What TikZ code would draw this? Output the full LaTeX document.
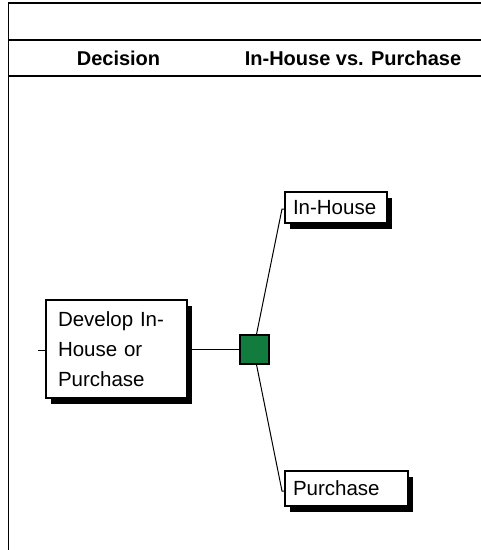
\documentclass[tikz,border=0pt]{standalone}
\usepackage{fontspec}
\setmainfont{Liberation Sans}
\usetikzlibrary{shadows}
\definecolor{chancegreen}{RGB}{18,123,62}
\begin{document}
\begin{tikzpicture}[x=1pt,y=-1pt,
  rule/.style={line width=1.4pt,black},
  link/.style={line width=1pt,black},
  header/.style={font=\fontsize{20}{24}\selectfont\bfseries,inner sep=0pt},
  card/.style={draw=black,line width=1.3pt,fill=white,
    font=\fontsize{20.5}{30}\selectfont,align=left,
    inner xsep=8pt,inner ysep=0pt,
    drop shadow={shadow xshift=5pt,shadow yshift=-6pt,fill=black,opacity=1}},
  chance/.style={draw=black,line width=1.2pt,fill=chancegreen,
    minimum width=29pt,minimum height=29pt,inner sep=0pt}
]
\useasboundingbox (0,0) rectangle (481,550);

% table frame and header rows
\draw[rule] (481,3) -- (8.5,3) -- (8.5,550);
\draw[rule] (8.5,40) -- (481,40);
\draw[rule] (8.5,76) -- (481,76);
\node[header] (hdec) at (118.5,58.5) {Decision};
\node[header] (hopt) at (353,58.5) {In-House vs. Purchase};

% decision node
\node[card,minimum width=141pt,minimum height=98pt,text width=117pt,inner xsep=12pt]
  (dec) at (116.5,349) {Develop In-\\House or\\Purchase};

% chance node
\node[chance] (sq) at (254.5,349.5) {};

% outcomes
\node[card,minimum width=102pt,minimum height=31pt,text width=86pt]
  (ih) at (336,207.5) {In-House};
\node[card,minimum width=123pt,minimum height=35pt,text width=107pt]
  (pu) at (346.5,488.5) {Purchase};

% connectors
\coordinate (stub) at (38,350);
\coordinate (ihb) at (282,209);
\coordinate (pub) at (282,491);
\draw[link] (stub) -- (stub -| dec.west);
\draw[link] (dec.east |- sq.west) -- (sq.west);
\draw[link] ([xshift=2pt]sq.north) -- (ihb) -- (ihb -| ih.west);
\draw[link] ([xshift=2pt]sq.south) -- (pub) -- (pub -| pu.west);
\end{tikzpicture}
\end{document}
